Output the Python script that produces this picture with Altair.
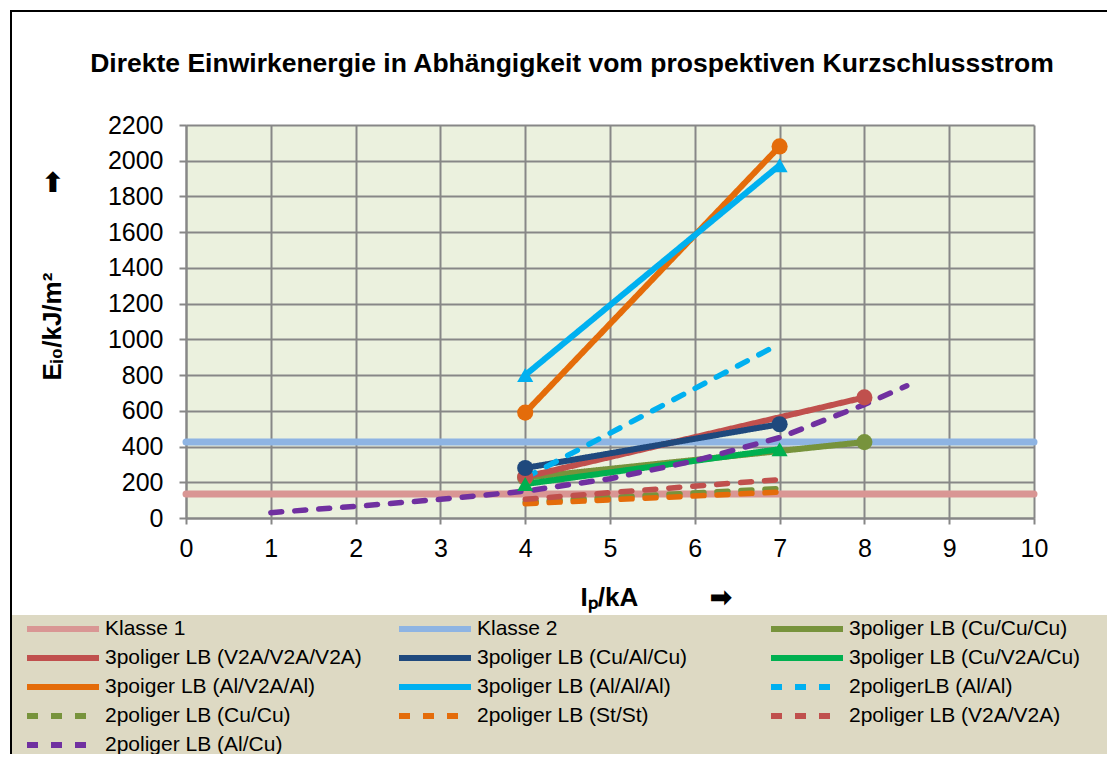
import altair as alt
import pandas as pd

# ---- data ----
series_names = [
    "Klasse 1",
    "Klasse 2",
    "3poliger LB (Cu/Cu/Cu)",
    "3poliger LB (V2A/V2A/V2A)",
    "3poliger LB (Cu/Al/Cu)",
    "3poliger LB (Cu/V2A/Cu)",
    "3poiger LB (Al/V2A/Al)",
    "3poliger LB (Al/Al/Al)",
    "2poligerLB (Al/Al)",
    "2poliger LB (Cu/Cu)",
    "2poliger LB (St/St)",
    "2poliger LB (V2A/V2A)",
    "2poliger LB (Al/Cu)",
]
series_colors = [
    "#D99694", "#8EB4E3", "#77933C", "#C0504D", "#1F497D", "#00B050",
    "#E46C0A", "#00B0F0", "#00B0F0", "#77933C", "#E46C0A", "#C0504D", "#7030A0",
]
series_markers = ["", "", "circle", "circle", "circle", "triangle-up",
                  "circle", "triangle-up", "", "", "", "", ""]
series_dashed = [False] * 8 + [True] * 5

x_klasse1 = [0, 10]
y_klasse1 = [135, 135]
x_klasse2 = [0, 10]
y_klasse2 = [425, 425]
x_cu_cu_cu = [4, 8]
y_cu_cu_cu = [225, 425]
x_v2a_3 = [4, 8]
y_v2a_3 = [230, 675]
x_cu_al_cu = [4, 7]
y_cu_al_cu = [280, 525]
x_cu_v2a_cu = [4, 7]
y_cu_v2a_cu = [190, 385]
x_al_v2a_al = [4, 7]
y_al_v2a_al = [590, 2080]
x_al_al_al = [4, 7]
y_al_al_al = [800, 1975]
x_2al_al = [4, 7]
y_2al_al = [225, 975]
x_2cu_cu = [4, 7]
y_2cu_cu = [90, 165]
x_2st_st = [4, 7]
y_2st_st = [80, 145]
x_2v2a = [4, 7]
y_2v2a = [105, 215]
x_2al_cu = [1, 2, 3, 4, 5, 6, 7, 8, 8.5]
y_2al_cu = [30, 65, 105, 150, 220, 320, 450, 635, 740]

x_lists = [x_klasse1, x_klasse2, x_cu_cu_cu, x_v2a_3, x_cu_al_cu, x_cu_v2a_cu,
           x_al_v2a_al, x_al_al_al, x_2al_al, x_2cu_cu, x_2st_st, x_2v2a, x_2al_cu]
y_lists = [y_klasse1, y_klasse2, y_cu_cu_cu, y_v2a_3, y_cu_al_cu, y_cu_v2a_cu,
           y_al_v2a_al, y_al_al_al, y_2al_al, y_2cu_cu, y_2st_st, y_2v2a, y_2al_cu]

x_ticks = list(range(0, 11))
y_ticks = list(range(0, 2201, 200))

title_text = "Direkte Einwirkenergie in Abhängigkeit vom prospektiven Kurzschlussstrom"
nb = "\u00a0"
arrow = "\u27a1"
x_title = "I\u209a/kA" + nb * 10 + arrow
y_title = "E\u1d62\u2080/kJ/m\u00b2" + nb * 11 + arrow

# ---- build tables ----
rows = []
for i, name in enumerate(series_names):
    if name.startswith("Klasse"):
        w = 7
    elif series_dashed[i]:
        w = 5.5
    else:
        w = 6
    for xv, yv in zip(x_lists[i], y_lists[i]):
        rows.append({"series": name, "x": xv, "y": yv, "w": w,
                     "hex": series_colors[i], "shp": series_markers[i], "idx": i})
df = pd.DataFrame(rows)
pts = df[df["shp"] != ""]

dash_range = [[11, 13] if d else [1, 0] for d in series_dashed]

FONT = "Liberation Sans"
GRID = "#878787"

legend_kw = dict(
    title=None, orient="none", legendX=-162, legendY=493, columns=3,
    direction="horizontal",
    columnPadding=34, rowPadding=7, gridAlign="all", symbolType="stroke",
    symbolSize=5184, symbolStrokeWidth=6, labelFontSize=21, labelFont=FONT,
    labelColor="black", labelLimit=400, labelOffset=3, clipHeight=22,
)

x_axis = alt.Axis(values=x_ticks, format="d", labelOverlap=False,
                  labelFlush=False, title=x_title, grid=True,
                  titleX=394, titleY=87, titleAlign="left",
                  titleBaseline="alphabetic", titleFontSize=26,
                  titleFont=FONT, titleFontWeight="bold", titleColor="black",
                  labelPadding=12, tickSize=6)
y_axis = alt.Axis(values=y_ticks, format="d", labelOverlap=False,
                  labelFlush=False, labelSeparation=0, title=y_title, grid=True,
                  titleAngle=270, titleX=-126, titleY=255,
                  titleAlign="left", titleBaseline="alphabetic",
                  titleFontSize=26, titleFont=FONT,
                  titleFontWeight="bold", titleColor="black",
                  labelPadding=16, tickSize=7)
x_scale = alt.Scale(domain=[0, 10], nice=False)
y_scale = alt.Scale(domain=[0, 2200], nice=False)

one = pd.DataFrame({"k": [0]})
legend_bg = alt.Chart(one).mark_rect(fill="#DDD9C3").encode(
    x=alt.value(-174), x2=alt.value(940), y=alt.value(490), y2=alt.value(660))
frame = alt.Chart(one).mark_rect(fillOpacity=0, stroke="black", strokeWidth=2).encode(
    x=alt.value(-175), x2=alt.value(940), y=alt.value(-114), y2=alt.value(660))

lines = alt.Chart(df).mark_line(strokeCap="round", strokeJoin="round").encode(
    x=alt.X("x:Q", scale=x_scale, axis=x_axis),
    y=alt.Y("y:Q", scale=y_scale, axis=y_axis),
    color=alt.Color("series:N", sort=series_names,
                    scale=alt.Scale(domain=series_names, range=series_colors),
                    legend=alt.Legend(**legend_kw)),
    strokeDash=alt.StrokeDash("series:N", sort=series_names,
                              scale=alt.Scale(domain=series_names, range=dash_range),
                              legend=alt.Legend(**legend_kw)),
    strokeWidth=alt.StrokeWidth("w:Q", scale=None),
    order=alt.Order("x:Q"),
)

points = alt.Chart(pts).mark_point(filled=True, opacity=1, size=260).encode(
    x=alt.X("x:Q", scale=x_scale, axis=x_axis),
    y=alt.Y("y:Q", scale=y_scale, axis=y_axis),
    color=alt.Color("hex:N", scale=None),
    shape=alt.Shape("shp:N", scale=None),
)

chart = alt.layer(legend_bg, frame, lines, points).properties(
    width=848, height=393,
    padding={"left": 178, "top": 117, "right": 73, "bottom": 236},
    autosize=alt.AutoSizeParams(type="none"),
    title=alt.TitleParams(title_text, fontSize=26.5, font=FONT, fontWeight="bold",
                          color="black", anchor="middle", dx=-38, dy=67, offset=0),
    background="white",
).configure_view(fill="#EBF1DE", stroke=None).configure_axis(
    labelFont=FONT, labelFontSize=25, labelColor="black", labelOverlap=False,
    labelFlush=False,
    gridColor=GRID, gridWidth=2, gridOpacity=1,
    domainColor=GRID, domainWidth=2, tickColor=GRID, tickWidth=2,
)

chart.save("out.html", embed_options={"renderer": "svg", "actions": False})
